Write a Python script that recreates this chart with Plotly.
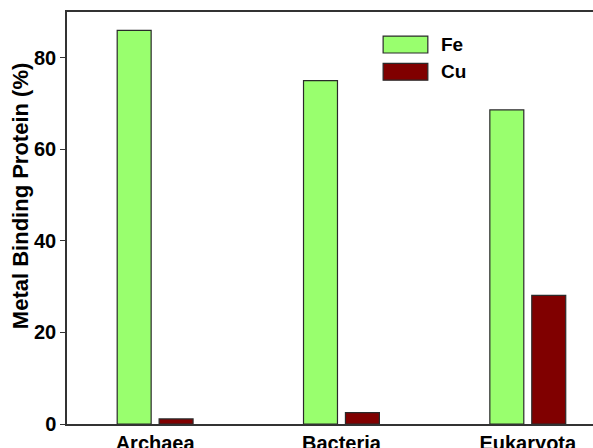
import plotly.graph_objects as go

categories = ["Archaea", "Bacteria", "Eukaryota"]
fe_values = [86.0, 75.0, 68.6]
cu_values = [1.1, 2.5, 28.1]
y_ticks = [0, 20, 40, 60, 80]

FE_COLOR = "#99FF6E"
CU_COLOR = "#800000"
EDGE = "#2a2a2a"
FONT = "Liberation Sans, Arial, sans-serif"

fig = go.Figure()
fig.add_trace(go.Bar(name="Fe", x=categories, y=fe_values,
                     marker=dict(color=FE_COLOR, line=dict(color=EDGE, width=1.2))))
fig.add_trace(go.Bar(name="Cu", x=categories, y=cu_values,
                     marker=dict(color=CU_COLOR, line=dict(color=EDGE, width=1.2))))

# legend drawn as shapes + text to match the wide swatches
legend_items = [("Fe", FE_COLOR, 0.921), ("Cu", CU_COLOR, 0.855)]
for name, col, yc in legend_items:
    fig.add_shape(type="rect", xref="paper", yref="paper",
                  x0=0.601, x1=0.686, y0=yc - 0.0205, y1=yc + 0.0205,
                  fillcolor=col, line=dict(color=EDGE, width=1.2))
    fig.add_annotation(text=name, xref="paper", yref="paper",
                       x=0.707, y=yc, xanchor="left", yanchor="middle",
                       showarrow=False,
                       font=dict(size=19, color="black", family=FONT, weight="bold"))

fig.add_annotation(text="Metal Binding Protein (%)", xref="paper", yref="paper",
                   x=-0.0894, y=0.553, xanchor="center", yanchor="middle", textangle=-90,
                   showarrow=False,
                   font=dict(size=22, color="black", family=FONT, weight="bold"))

fig.update_layout(
    width=593, height=448,
    margin=dict(l=67, r=0, t=12, b=24),
    paper_bgcolor="white", plot_bgcolor="white",
    barmode="group", bargap=0.55, bargroupgap=0.19,
    showlegend=False,
    font=dict(family=FONT, size=20, color="black"),
)
fig.update_xaxes(range=[-0.473, 2.35], showline=True, linecolor="#333", linewidth=1.5,
                 mirror=True, ticks="", showgrid=False, automargin=False,
                 tickfont=dict(size=20, weight="bold", family=FONT))
fig.update_yaxes(range=[0, 90], tickvals=y_ticks, showline=True, linecolor="#333",
                 linewidth=1.5, ticks="outside", ticklen=5, tickcolor="#333",
                 showgrid=False, zeroline=False, automargin=False,
                 tickfont=dict(size=20, weight="bold", family=FONT))

fig.write_html("out.html", config={"displayModeBar": False},
               post_script="document.body.style.margin='0';document.body.style.padding='0';")
